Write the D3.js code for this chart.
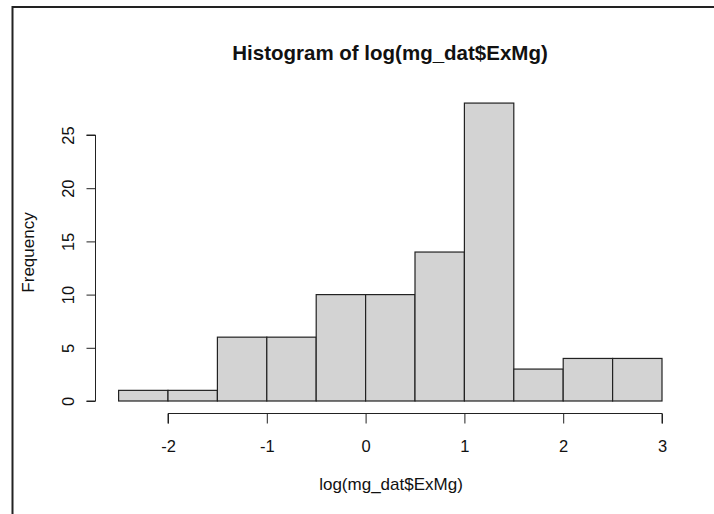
<!DOCTYPE html>
<html>
<head>
<meta charset="utf-8">
<script src="https://cdn.jsdelivr.net/npm/d3@7"></script>
<style>
  html, body { margin: 0; padding: 0; background: #fff; }
  svg { display: block; font-family: "Liberation Sans", Arial, sans-serif; }
</style>
</head>
<body>
<svg id="chart" width="714" height="514"></svg>
<script>
// Histogram bins of log(ExMg): lower edges, bin width and counts
const binStarts = [-2.5, -2, -1.5, -1, -0.5, 0, 0.5, 1, 1.5, 2, 2.5];
const binWidth = 0.5;
const counts = [1, 1, 6, 6, 10, 10, 14, 28, 3, 4, 4];
const xTicks = [-2, -1, 0, 1, 2, 3];
const yTicks = [0, 5, 10, 15, 20, 25];
const titleText = "Histogram of log(mg_dat$ExMg)";
const xLabel = "log(mg_dat$ExMg)";
const yLabel = "Frequency";

const svg = d3.select("#chart");
const ink = "#111";
const font = "Liberation Sans, Arial, sans-serif";

// frame lines along the top and left edge
svg.append("line").attr("x1", 12.5).attr("x2", 714).attr("y1", 7).attr("y2", 7)
  .attr("stroke", "#222").attr("stroke-width", 2);
svg.append("line").attr("x1", 12.5).attr("x2", 12.5).attr("y1", 6).attr("y2", 514)
  .attr("stroke", "#222").attr("stroke-width", 2);

const x = d3.scaleLinear().domain([-2, 3]).range([168, 662]);
const y = d3.scaleLinear().domain([0, 25]).range([401, 135]);

// bars
svg.append("g").selectAll("rect")
  .data(binStarts.map((s, i) => ({ s, c: counts[i] })))
  .join("rect")
  .attr("x", d => x(d.s))
  .attr("width", d => x(d.s + binWidth) - x(d.s))
  .attr("y", d => y(d.c))
  .attr("height", d => y(0) - y(d.c))
  .attr("fill", "#d3d3d3")
  .attr("stroke", "#222")
  .attr("stroke-width", 1.2);

// x axis
const xAxis = svg.append("g")
  .attr("transform", "translate(0,413.5)")
  .call(d3.axisBottom(x).tickValues(xTicks).tickSize(10)
    .tickFormat(d => d < 0 ? "-" + Math.abs(d) : d));
xAxis.select(".domain").attr("d", `M${x(-2)},10V0H${x(3)}V10`).attr("stroke", "#222");
xAxis.selectAll(".tick line").attr("stroke", "#222");
xAxis.selectAll("text").attr("font-size", 16.5).attr("fill", ink)
  .attr("font-family", font).attr("y", 38).attr("dy", 0);

// y axis with rotated labels
const yAxis = svg.append("g")
  .attr("transform", "translate(95.5,0)")
  .call(d3.axisLeft(y).tickValues(yTicks).tickSize(9));
yAxis.select(".domain").attr("d", `M-9,${y(0)}H0V${y(25)}H-9`).attr("stroke", "#222");
yAxis.selectAll(".tick line").attr("stroke", "#222");
yAxis.selectAll("text")
  .attr("font-size", 16.5).attr("fill", ink)
  .attr("font-family", font)
  .attr("x", null).attr("dy", null)
  .attr("text-anchor", "middle")
  .attr("transform", "translate(-22,0) rotate(-90)");

// title and axis labels
svg.append("text").attr("x", 390).attr("y", 60).attr("text-anchor", "middle")
  .attr("font-size", 20.5).attr("font-weight", "bold").attr("fill", ink).text(titleText);
svg.append("text").attr("x", 391).attr("y", 490).attr("text-anchor", "middle")
  .attr("font-size", 17).attr("fill", ink).text(xLabel);
svg.append("text").attr("transform", "translate(34,252.5) rotate(-90)").attr("text-anchor", "middle")
  .attr("font-size", 17).attr("fill", ink).text(yLabel);
</script>
</body>
</html>
